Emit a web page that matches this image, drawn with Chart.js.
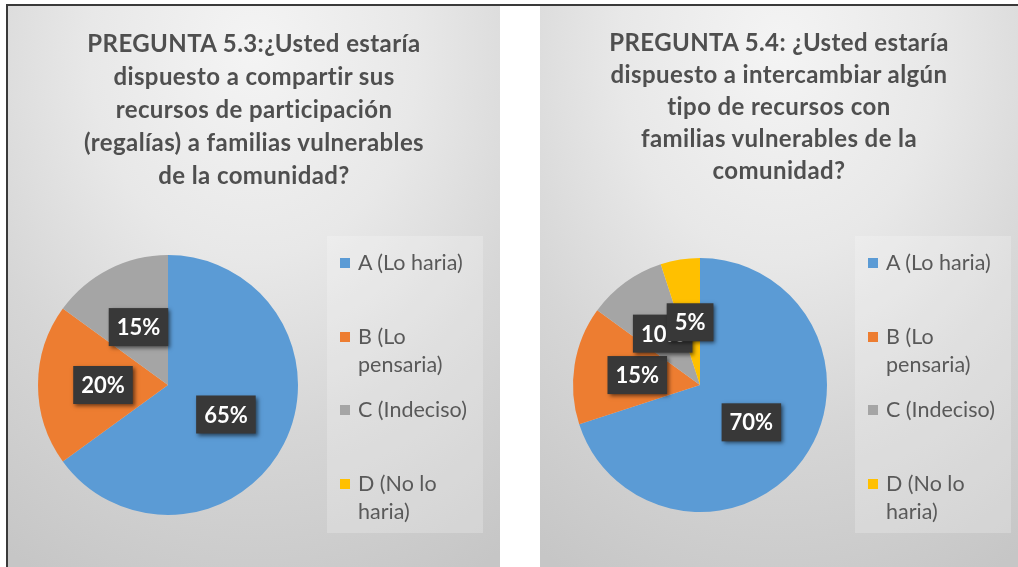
<!DOCTYPE html>
<html>
<head>
<meta charset="utf-8">
<script src="https://cdn.jsdelivr.net/npm/chart.js@4.4.1/dist/chart.umd.min.js"></script>
<style>
  html, body { margin:0; padding:0; background:#ffffff; }
  body { width:1018px; height:567px; position:relative; overflow:hidden; font-family: Lato, "Open Sans", sans-serif; }
  .frameTop { position:absolute; left:6px; top:4px; width:1012px; height:2px; background:#3a3a3a; }
  .frameLeft { position:absolute; left:6px; top:4px; width:2px; height:563px; background:#3a3a3a; }
  .panel { position:absolute; top:6px; height:561px;
    background: radial-gradient(ellipse 95% 105% at 50% 8%, #f4f4f4 0%, #e8e8e8 35%, #d6d6d6 65%, #c6c6c6 100%); }
  .panel canvas { position:absolute; left:0; top:0; }
  .title { position:absolute; left:0; width:100%; text-align:center; font-weight:700; color:#4f4f4f; font-size:24px; letter-spacing:0.4px; }
  .title div { white-space:nowrap; }
  .legendBox { position:absolute; background:rgba(255,255,255,0.22); }
  .legItem { position:absolute; left:0; font-size:21.5px; color:#595959; line-height:28.5px; }
  .legItem .sw { position:absolute; left:0; top:10px; width:10px; height:10px; }
  .legItem .tx { position:absolute; left:18px; top:0; width:124px; }
</style>
</head>
<body>
<div class="frameTop"></div>
<div class="frameLeft"></div>
<div class="panel" id="p1" style="left:8px; width:492px;">
  <canvas id="c1" width="492" height="561"></canvas>
  <div class="title" id="t1" style="top:20px; line-height:33px;"></div>
  <div class="legendBox" style="left:319px; top:230px; width:156px; height:297px;"></div>
  <div id="l1" style="position:absolute; left:332px; top:242px;"></div>
</div>
<div class="panel" id="p2" style="left:540px; width:478px;">
  <canvas id="c2" width="478" height="561"></canvas>
  <div class="title" id="t2" style="top:20px; line-height:32px;"></div>
  <div class="legendBox" style="left:315px; top:230px; width:156px; height:297px;"></div>
  <div id="l2" style="position:absolute; left:328px; top:242px;"></div>
</div>
<script>
// ---- data ----
const categories = ['A (Lo haria)', 'B (Lo pensaria)', 'C (Indeciso)', 'D (No lo haria)'];
const values53 = [65, 20, 15, 0];
const values54 = [70, 15, 10, 5];
const sliceColors = ['#5b9bd5', '#ed7d31', '#a5a5a5', '#ffc000'];
const title53 = ['PREGUNTA 5.3:¿Usted estaría', 'dispuesto a compartir sus', 'recursos de participación', '(regalías) a familias vulnerables', 'de la comunidad?'];
const title54 = ['PREGUNTA 5.4: ¿Usted estaría', 'dispuesto a intercambiar algún', 'tipo de recursos con', 'familias vulnerables de la', 'comunidad?'];

function buildTitle(id, lines) {
  const el = document.getElementById(id);
  lines.forEach(l => { const d = document.createElement('div'); d.textContent = l; el.appendChild(d); });
}
function buildLegend(id) {
  const el = document.getElementById(id);
  categories.forEach((c, i) => {
    const it = document.createElement('div');
    it.className = 'legItem';
    it.style.top = (i * 73.5) + 'px';
    const sw = document.createElement('div'); sw.className = 'sw'; sw.style.background = sliceColors[i];
    const tx = document.createElement('div'); tx.className = 'tx'; tx.textContent = c;
    it.appendChild(sw); it.appendChild(tx); el.appendChild(it);
  });
}
buildTitle('t1', title53); buildTitle('t2', title54);
buildLegend('l1'); buildLegend('l2');

const labelPlugin = {
  id: 'boxLabels',
  afterDatasetsDraw(chart) {
    const ctx = chart.ctx;
    const meta = chart.getDatasetMeta(0);
    const data = chart.data.datasets[0].data;
    ctx.save();
    ctx.font = 'bold 22px Lato, "Open Sans", sans-serif';
    ctx.textAlign = 'center';
    ctx.textBaseline = 'middle';
    meta.data.forEach((arc, i) => {
      if (!data[i]) return;
      const p = arc.tooltipPosition();
      const txt = data[i] + '%';
      const w = ctx.measureText(txt).width + 16;
      const h = 38;
      ctx.shadowColor = 'rgba(0,0,0,0.55)';
      ctx.shadowBlur = 4;
      ctx.shadowOffsetX = 2;
      ctx.shadowOffsetY = 2;
      ctx.fillStyle = '#383838';
      ctx.fillRect(p.x - w / 2, p.y - h / 2, w, h);
      ctx.shadowColor = 'transparent';
      ctx.fillStyle = '#ffffff';
      ctx.fillText(txt, p.x, p.y + 1);
    });
    ctx.restore();
  }
};

function makePie(canvasId, values, padding) {
  return new Chart(document.getElementById(canvasId), {
    type: 'pie',
    data: { labels: categories, datasets: [{ data: values, backgroundColor: sliceColors, borderWidth: 0 }] },
    options: {
      responsive: false,
      animation: false,
      layout: { padding: padding },
      plugins: { legend: { display: false }, title: { display: false }, tooltip: { enabled: false } }
    },
    plugins: [labelPlugin]
  });
}
makePie('c1', values53, { left: 30, right: 202, top: 249, bottom: 52 });
makePie('c2', values54, { left: 33, right: 191, top: 252, bottom: 55 });
</script>
</body>
</html>
